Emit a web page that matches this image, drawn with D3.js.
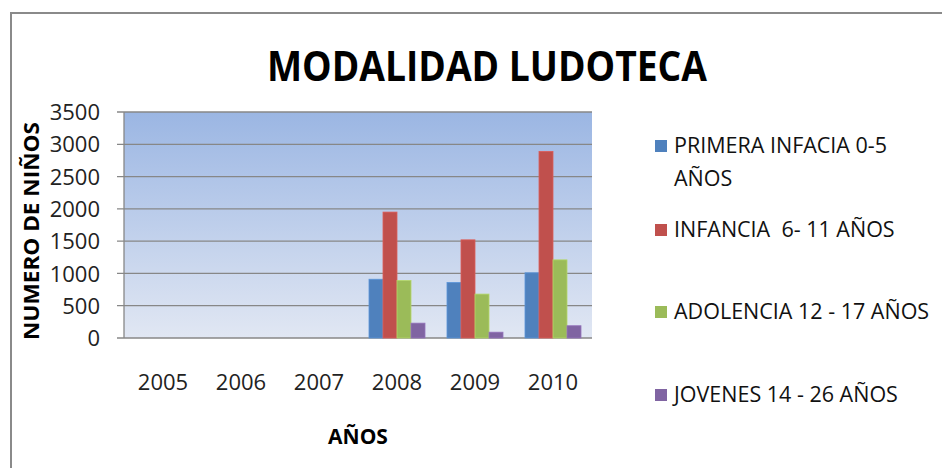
<!DOCTYPE html>
<html lang="es">
<head>
    <meta charset="UTF-8">
    <title>Modalidad Ludoteca</title>
    <script src="https://cdnjs.cloudflare.com/ajax/libs/d3/7.8.5/d3.min.js"></script>
    <style>
        body {
            margin: 0;
            background: #fff;
        }
        svg {
            display: block;
            font-family: "Open Sans", "Noto Sans", sans-serif;
        }
        .grid line {
            stroke: #878787;
            stroke-width: 1.3;
        }
        .tick text {
            fill: #222;
        }
    </style>
</head>
<body>
    <svg id="svg" width="942" height="468"></svg>

    <script>
        const width = 942;
        const height = 468;

        // data
        const years = ["2005", "2006", "2007", "2008", "2009", "2010"];
        const series = [
            "PRIMERA INFACIA 0-5 AÑOS",
            "INFANCIA  6- 11 AÑOS",
            "ADOLENCIA 12 - 17 AÑOS",
            "JOVENES 14 - 26 AÑOS"
        ];
        const primeraInfancia = [0, 0, 0, 910, 860, 1010];
        const infancia = [0, 0, 0, 1950, 1520, 2890];
        const adolencia = [0, 0, 0, 890, 680, 1210];
        const jovenes = [0, 0, 0, 230, 90, 190];
        const yTicks = [0, 500, 1000, 1500, 2000, 2500, 3000, 3500];
        const colors = ["#4f81bd", "#c0504d", "#9bbb59", "#8064a2"];

        const values = [primeraInfancia, infancia, adolencia, jovenes];

        const margin = { left: 124, right: 350, top: 112, bottom: 130 };
        const plotW = width - margin.left - margin.right;
        const plotH = height - margin.top - margin.bottom;

        const svg = d3.select("#svg");

        // outer frame (only top and left edges show)
        svg.append("path")
            .attr("d", `M11,${height}V13H${width}`)
            .attr("fill", "none")
            .attr("stroke", "#8a8a8a")
            .attr("stroke-width", 2);

        // title
        svg.append("text")
            .attr("x", 487)
            .attr("y", 81)
            .attr("text-anchor", "middle")
            .attr("font-size", 42)
            .attr("font-weight", "bold")
            .attr("textLength", 440)
            .attr("lengthAdjust", "spacingAndGlyphs")
            .text("MODALIDAD LUDOTECA");

        const x0 = d3.scaleBand()
            .domain(years)
            .range([0, plotW]);

        const x1 = d3.scaleBand()
            .domain(d3.range(series.length))
            .range([11, x0.bandwidth() - 11]);

        const y = d3.scaleLinear()
            .domain([0, 3500])
            .range([plotH, 0]);

        const g = svg.append("g")
            .attr("transform", `translate(${margin.left},${margin.top})`);

        // plot background gradient
        const defs = svg.append("defs");
        const grad = defs.append("linearGradient")
            .attr("id", "bg")
            .attr("x1", 0).attr("y1", 0)
            .attr("x2", 0).attr("y2", 1);
        grad.append("stop").attr("offset", "0%").attr("stop-color", "#9bb6e3");
        grad.append("stop").attr("offset", "100%").attr("stop-color", "#e1e7f3");

        g.append("rect")
            .attr("width", plotW)
            .attr("height", plotH)
            .attr("fill", "url(#bg)");

        // gridlines
        g.append("g")
            .attr("class", "grid")
            .selectAll("line")
            .data(yTicks)
            .join("line")
            .attr("x1", -7)
            .attr("x2", plotW)
            .attr("y1", d => y(d))
            .attr("y2", d => y(d));

        // left axis line
        g.append("line")
            .attr("x1", 0).attr("x2", 0)
            .attr("y1", 0).attr("y2", plotH)
            .attr("stroke", "#878787")
            .attr("stroke-width", 1.3);

        // y axis labels
        const yAxis = g.append("g")
            .call(d3.axisLeft(y).tickValues(yTicks).tickFormat(d3.format("d")).tickSize(0).tickPadding(24))
            .attr("font-size", 22)
            .attr("font-family", null);
        yAxis.select(".domain").remove();
        yAxis.selectAll("text").attr("dy", "0.35em");

        // x axis labels
        const xAxis = g.append("g")
            .attr("transform", `translate(0,${plotH})`)
            .call(d3.axisBottom(x0).tickSize(0).tickPadding(36))
            .attr("font-size", 22)
            .attr("font-family", null);
        xAxis.select(".domain").remove();

        // bars
        const groups = g.selectAll(".year")
            .data(years)
            .join("g")
            .attr("class", "year")
            .attr("transform", d => `translate(${x0(d)},0)`);

        groups.selectAll("rect")
            .data((d, i) => values.map((s, k) => ({ k, v: s[i] })))
            .join("rect")
            .attr("x", d => x1(d.k))
            .attr("width", x1.bandwidth())
            .attr("y", d => y(d.v))
            .attr("height", d => plotH - y(d.v))
            .attr("fill", d => colors[d.k])
            .attr("stroke", d => d3.color(colors[d.k]).brighter(0.4))
            .attr("stroke-width", d => d.v > 0 ? 0.8 : 0);

        // axis titles
        svg.append("text")
            .attr("x", margin.left + plotW / 2)
            .attr("y", 444)
            .attr("text-anchor", "middle")
            .attr("font-size", 21)
            .attr("font-weight", "bold")
            .text("AÑOS");

        svg.append("text")
            .attr("transform", "translate(39,231) rotate(-90)")
            .attr("text-anchor", "middle")
            .attr("font-size", 21)
            .attr("font-weight", "bold")
            .attr("textLength", 218)
            .attr("lengthAdjust", "spacingAndGlyphs")
            .text("NUMERO DE NIÑOS");

        // legend
        const legendRows = [
            ["PRIMERA INFACIA 0-5", "AÑOS"],
            ["INFANCIA  6- 11 AÑOS"],
            ["ADOLENCIA 12 - 17 AÑOS"],
            ["JOVENES 14 - 26 AÑOS"]
        ];
        const legendY = [153, 237, 319, 402];

        const legend = svg.append("g");
        legendRows.forEach((lines, i) => {
            legend.append("rect")
                .attr("x", 655)
                .attr("y", legendY[i] - 13)
                .attr("width", 12)
                .attr("height", 12)
                .attr("fill", colors[i]);
            const t = legend.append("text")
                .attr("x", 674)
                .attr("y", legendY[i])
                .attr("font-size", 21.5)
                .attr("fill", "#111")
                .style("white-space", "pre");
            lines.forEach((line, j) => {
                t.append("tspan")
                    .attr("x", 674)
                    .attr("dy", j === 0 ? 0 : 33)
                    .text(line);
            });
        });
    </script>
</body>
</html>
